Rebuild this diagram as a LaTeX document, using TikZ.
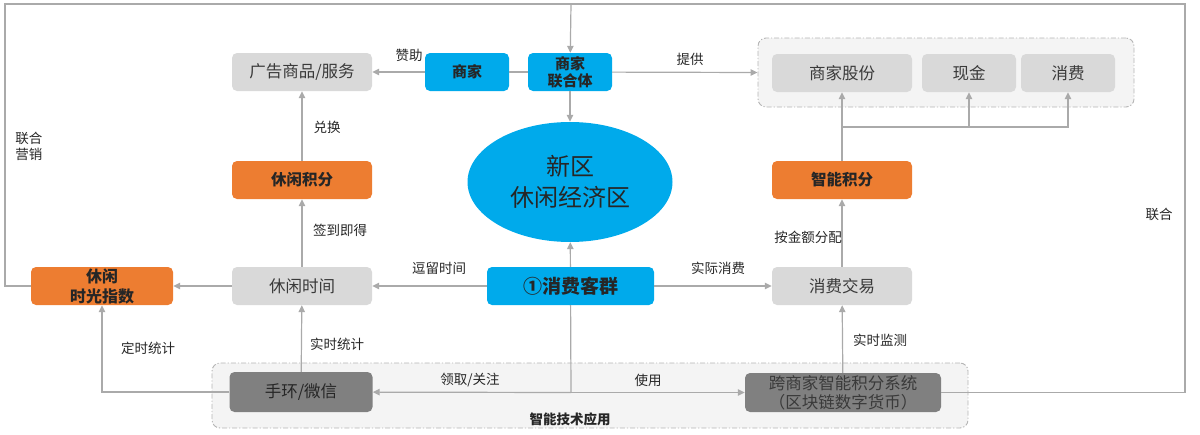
\documentclass[tikz,border=0pt]{standalone}
\usepackage{fontspec}
\setmainfont{Noto Sans CJK SC}
\usetikzlibrary{arrows.meta,shapes.geometric,calc}
\definecolor{bblue}{RGB}{0,170,235}
\definecolor{borange}{RGB}{237,125,49}
\definecolor{lgray}{RGB}{217,217,217}
\definecolor{dgray}{RGB}{128,128,128}
\definecolor{lnk}{RGB}{170,170,170}
\definecolor{grpfill}{RGB}{244,244,244}
\definecolor{grpline}{RGB}{180,180,180}
\definecolor{txt}{RGB}{38,38,38}
\definecolor{txtb}{RGB}{58,58,58}
\tikzset{
  box/.style={rounded corners=5pt, minimum height=38, inner sep=0pt, align=center, text=txt},
  graybox/.style={box, fill=lgray, font=\fontsize{16.5}{19}\selectfont, text=txtb},
  darkbox/.style={box, fill=dgray, font=\fontsize{16.5}{19}\selectfont, text=txt},
  bluebox/.style={box, fill=bblue, font=\bfseries\fontsize{15}{17}\selectfont},
  orangebox/.style={box, fill=borange, font=\bfseries\fontsize{15.5}{20}\selectfont},
  grp/.style={rounded corners=8pt, fill=grpfill, draw=grpline, line width=0.9pt,
    dash pattern=on 5pt off 2pt on 1.2pt off 2pt},
  ln/.style={draw=lnk, line width=1.2pt, -{Triangle[length=7pt,width=6.5pt]}},
  plain/.style={draw=lnk, line width=1.2pt},
  lbl/.style={font=\fontsize{13.5}{16}\selectfont, text=txt, inner sep=0pt, align=center},
}
\begin{document}
\begin{tikzpicture}[x=1pt,y=-1pt]
\useasboundingbox (0,0) rectangle (1200,434);
% groups
\node[grp, minimum width=376, minimum height=69] (gtop) at (946,72.5) {};
\node[grp, minimum width=756, minimum height=65] (gbot) at (590,395.5) {};
% top row
\node[graybox, minimum width=140] (ad) at (302,72) {广告商品/服务};
\node[bluebox, minimum width=84] (sj) at (467,72) {商家};
\node[bluebox, minimum width=84] (lht) at (570,72) {商家\\联合体};
\node[graybox, minimum width=140] (gufen) at (842,73) {商家股份};
\node[graybox, minimum width=94] (xianjin) at (969,73) {现金};
\node[graybox, minimum width=94] (xiaofei) at (1068,73) {消费};
% ellipse
\node[ellipse, fill=bblue, minimum width=205, minimum height=120, inner sep=0pt,
  align=center, text=txt, font=\fontsize{24}{31}\selectfont] (ell) at (570,182) {新区\\休闲经济区};
% middle
\node[orangebox, minimum width=140] (xxjf) at (302,180) {休闲积分};
\node[orangebox, minimum width=140] (znjf) at (842,180) {智能积分};
% row 3
\node[orangebox, minimum width=142, font=\bfseries\fontsize{16}{20}\selectfont] (idx) at (102,286) {休闲\\时光指数};
\node[graybox, minimum width=140] (xxsj) at (302,286) {休闲时间};
\node[bluebox, minimum width=167, font=\bfseries\fontsize{19}{22}\selectfont] (kq) at (570.5,286) {①消费客群};
\node[graybox, minimum width=140] (jy) at (842,286) {消费交易};
% bottom
\node[darkbox, minimum width=143, minimum height=40] (sh) at (301,392) {手环/微信};
\node[darkbox, minimum width=196, minimum height=39, text=txtb] (kua) at (843,392.5) {跨商家智能积分系统\\（区块链数字货币）};
\node[lbl, font=\bfseries\fontsize{13.5}{16}\selectfont] (zn) at (570,419) {智能技术应用};
% frame coordinates
\coordinate (fTL) at (5,4);
\coordinate (fTR) at (1185,4);
\coordinate (fTop) at (571,4);
\coordinate (br) at (842,127);
\coordinate (jn) at (571,392.5);
% connectors
\draw[ln] (sj) -- (ad);
\draw[plain] (lht) -- (sj);
\draw[ln] (lht) -- (gtop.west);
\draw[ln] (lht) -- (ell);
\draw[ln] (kq) -- (ell);
\draw[ln] (xxjf) -- (ad);
\draw[ln] (xxsj) -- (xxjf);
\draw[ln] (kq) -- (xxsj);
\draw[ln] (xxsj) -- (idx);
\draw[ln] (kq) -- (jy);
\draw[ln] (jy) -- (znjf);
\draw[plain] (znjf) -- (br);
\draw[ln] (br) -- (gufen);
\draw[ln] (br) -| (xianjin);
\draw[ln] (br) -| (xiaofei);
\draw[plain] (kq) -- (jn);
\draw[ln] (jn) -- (sh);
\draw[ln] (jn) -- (kua);
\draw[ln] (sh) -- (xxsj);
\draw[ln] (sh.west) -| (idx);
\draw[ln] (kua) -- (jy);
\draw[plain] (idx.west) -| (fTL) -- (fTR) |- (kua.east);
\draw[ln] (fTop) -- (lht);
% labels
\node[lbl] (l1) at (409,55) {赞助};
\node[lbl] (l2) at (690,59) {提供};
\node[lbl] (l3) at (327,127) {兑换};
\node[lbl, align=left] (l4) at (29,146) {联合\\营销};
\node[lbl] (l5) at (340,230) {签到即得};
\node[lbl] (l6) at (439,268) {逗留时间};
\node[lbl] (l7) at (718,268) {实际消费};
\node[lbl] (l8) at (808,237) {按金额分配};
\node[lbl] (l9) at (1159,214) {联合};
\node[lbl] (l10) at (148,348) {定时统计};
\node[lbl] (l11) at (337,344) {实时统计};
\node[lbl] (l12) at (880,340) {实时监测};
\node[lbl] (l13) at (470,380) {领取/关注};
\node[lbl] (l14) at (648,380) {使用};
\end{tikzpicture}
\end{document}
